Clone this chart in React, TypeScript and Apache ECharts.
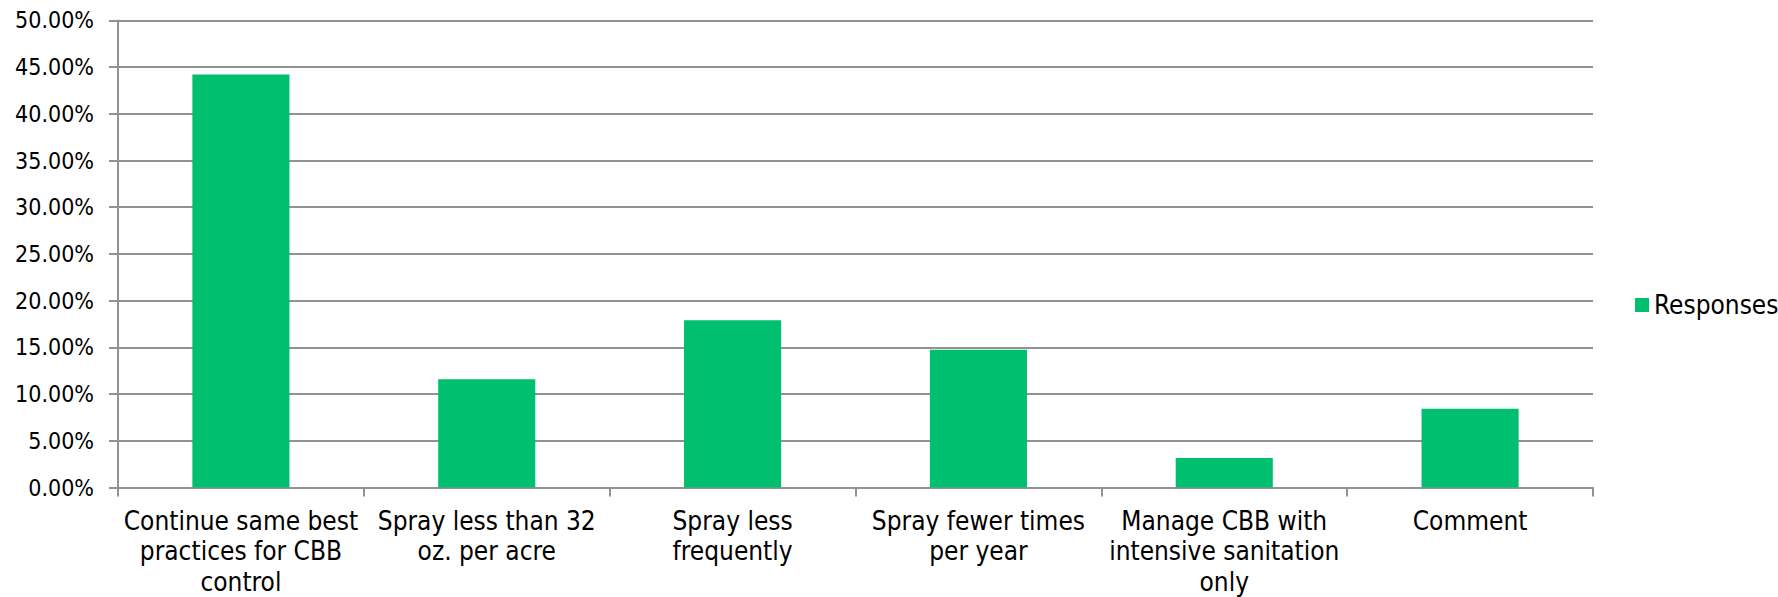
import React, { useEffect, useRef } from "react";
import * as echarts from "echarts";

const categories = [
  "Continue same best\npractices for CBB\ncontrol",
  "Spray less than 32\noz. per acre",
  "Spray less\nfrequently",
  "Spray fewer times\nper year",
  "Manage CBB with\nintensive sanitation\nonly",
  "Comment",
];
const responses = [44.21, 11.58, 17.89, 14.74, 3.16, 8.42];
const seriesName = "Responses";
const yMax = 50;
const yInterval = 5;

const FONT = "'DejaVu Sans Condensed', 'DejaVu Sans', Roboto, sans-serif";
const GRAY = "#929292";

export default function App() {
  const ref = useRef<HTMLDivElement>(null);
  useEffect(() => {
    if (!ref.current) return;
    const chart = echarts.init(ref.current, null, { renderer: "svg" });
    chart.setOption({
      animation: false,
      backgroundColor: "#ffffff",
      textStyle: { fontFamily: FONT },
      grid: { left: 118, right: 185, top: 20.4, bottom: 107, containLabel: false },
      legend: {
        data: [seriesName],
        orient: "vertical",
        left: 1630,
        top: 287,
        itemWidth: 14,
        itemHeight: 14,
        icon: "rect",
        itemGap: 6,
        textStyle: { fontFamily: FONT, fontSize: 26, color: "#000" },
      },
      xAxis: {
        type: "category",
        data: categories,
        axisLine: { show: true, lineStyle: { color: GRAY, width: 2 } },
        axisTick: { show: true, length: 9, lineStyle: { color: GRAY, width: 2 } },
        axisLabel: {
          interval: 0,
          margin: 18,
          fontFamily: FONT,
          fontSize: 26,
          lineHeight: 30.5,
          color: "#000",
          align: "center",
        },
      },
      yAxis: {
        type: "value",
        min: 0,
        max: yMax,
        interval: yInterval,
        axisLine: { show: true, lineStyle: { color: GRAY, width: 2 } },
        axisTick: { show: true, length: 9, lineStyle: { color: GRAY, width: 2 } },
        splitLine: { show: true, lineStyle: { color: GRAY, width: 2 } },
        axisLabel: {
          margin: 24,
          fontFamily: FONT,
          fontSize: 23,
          color: "#000",
          formatter: (v: number) => v.toFixed(2) + "%",
        },
      },
      series: [
        {
          name: seriesName,
          type: "bar",
          data: responses,
          barWidth: "39.5%",
          itemStyle: { color: "#00BF6F" },
        },
      ],
    });
    return () => chart.dispose();
  }, []);
  return (
    <div
      ref={ref}
      style={{ position: "fixed", left: 0, top: 0, width: 1778, height: 597, background: "#fff" }}
    />
  );
}
